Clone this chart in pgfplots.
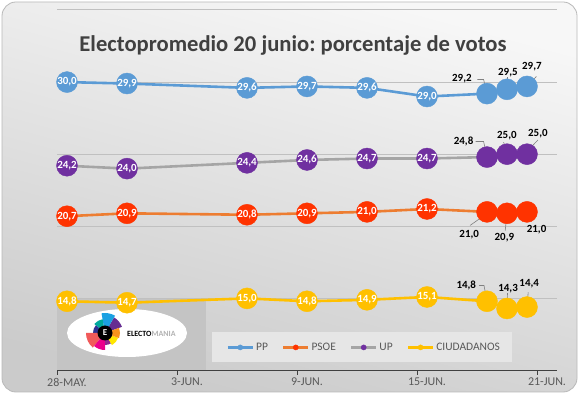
\documentclass[border=0pt]{standalone}
\usepackage{fontspec}
\setmainfont{Carlito}
\usepackage{pgfplots}
\pgfplotsset{compat=1.18}
\usepackage{pgfplotstable}
\frenchspacing

\definecolor{ppc}{HTML}{5B9BD5}
\definecolor{psoel}{HTML}{ED7D31}
\definecolor{psoem}{HTML}{FF3300}
\definecolor{upl}{HTML}{A5A5A5}
\definecolor{upm}{HTML}{7030A0}
\definecolor{csc}{HTML}{FFC000}
\definecolor{gridc}{HTML}{C0C0C0}
\definecolor{axc}{HTML}{404040}
\definecolor{txc}{HTML}{595959}
\definecolor{titc}{HTML}{404040}
\definecolor{bgtop}{HTML}{F7F7F7}
\definecolor{bgbot}{HTML}{CBCBCB}
\definecolor{logobg}{HTML}{C4C4C4}
\definecolor{legbg}{HTML}{E6E6E6}
\definecolor{leadc}{HTML}{808080}
\definecolor{lg1}{HTML}{662D91}
\definecolor{lg2}{HTML}{1BA1E2}
\definecolor{lg3}{HTML}{00A99D}
\definecolor{lg4}{HTML}{2E3192}
\definecolor{lg5}{HTML}{F15A5A}
\definecolor{lg6}{HTML}{EC008C}
\definecolor{lg7}{HTML}{92278F}
\definecolor{lg8}{HTML}{FFE600}
\definecolor{lg9}{HTML}{F7941D}

% x = day from 28-May (points at middle of day); w = 100 white label, 0 black label
\pgfplotstableread{
x    y    dx    dy    w
0.5  30.0 0     0     100
3.5  29.9 0     0     100
9.5  29.6 0     0     100
12.5 29.7 0     0     100
15.5 29.6 0     0     100
18.5 29.0 0     0     100
21.5 29.2 -25.1 14.8  0
22.5 29.5 0.9   17.1  0
23.5 29.7 4.9   19.9  0
}\pp
\pgfplotstableread{
x    y    dx    dy    w
0.5  20.7 0     0     100
3.5  20.9 0     0     100
9.5  20.8 0     0     100
12.5 20.9 0     0     100
15.5 21.0 0     0     100
18.5 21.2 0     0     100
21.5 21.0 -17.8 -22.6 0
22.5 20.9 -2.6  -23.9 0
23.5 21.0 9.6   -17.6 0
}\psoe
\pgfplotstableread{
x    y    dx    dy    w
0.5  24.2 0     0     100
3.5  24.0 0     0     100
9.5  24.4 0     0     100
12.5 24.6 0     0     100
15.5 24.7 0     0     100
18.5 24.7 0     0     100
21.5 24.8 -23.4 15.6  0
22.5 25.0 -0.1  18.7  0
23.5 25.0 10.9  21.0  0
}\up
\pgfplotstableread{
x    y    dx    dy    w
0.5  14.8 0     0     100
3.5  14.7 0     0     100
9.5  15.0 0     0     100
12.5 14.8 0     0     100
15.5 14.9 0     0     100
18.5 15.1 0     0     100
21.5 14.8 -20.7 15.8  0
22.5 14.3 1.1   19.7  0
23.5 14.4 2.2   23.2  0
}\cs

\pgfplotsset{
  serline/.style={color=#1, line width=2.6bp, no marks, forget plot},
  dots/.style={only marks, mark=*, mark size=10.5bp,
    mark options={draw=#1, fill=#1}, forget plot,
    nodes near coords, point meta=y,
    visualization depends on={\thisrow{dx}\as\ldx},
    visualization depends on={\thisrow{dy}\as\ldy},
    visualization depends on={\thisrow{w}\as\labw},
    every node near coord/.append style={anchor=center, inner sep=0pt,
      xshift=\ldx bp, yshift=\ldy bp, text={white!\labw!black},
      font=\bfseries\fontsize{11}{13}\selectfont}},
  legimg/.style={legend image code/.code={%
    \draw[line width=2.6bp,##1] (0bp,0bp) -- (25bp,0bp);
    \fill[#1] (12.5bp,0bp) circle (2.6bp);}},
}

\begin{document}
\begin{tikzpicture}
% background
\fill[white] (0,0) rectangle (580bp,394bp);
\shade[rounded corners=14bp, top color=bgtop, bottom color=bgbot, shading angle=-15]
  (2bp,2bp) rectangle (577bp,392bp);
\draw[gray!55, line width=0.8bp, rounded corners=14bp] (2bp,2bp) rectangle (577bp,392bp);
% logo panel
\fill[logobg] (57bp,24bp) rectangle (206bp,96bp);
\fill[white] (127bp,61bp) ellipse (60bp and 24bp);
\begin{scope}[shift={(105bp,61bp)}]
  \fill[lg1] (0,0) -- (20:18bp) arc (20:60:18bp) -- cycle;
  \fill[lg2] (0,0) -- (60:20bp) arc (60:100:20bp) -- cycle;
  \fill[lg3] (0,0) -- (100:14bp) arc (100:140:14bp) -- cycle;
  \fill[lg4] (0,0) -- (140:12bp) arc (140:180:12bp) -- cycle;
  \fill[lg5] (0,0) -- (180:19bp) arc (180:230:19bp) -- cycle;
  \fill[lg6] (0,0) -- (230:17bp) arc (230:270:17bp) -- cycle;
  \fill[lg7] (0,0) -- (270:12bp) arc (270:300:12bp) -- cycle;
  \fill[lg8] (0,0) -- (300:14bp) arc (300:340:14bp) -- cycle;
  \fill[lg9] (0,0) -- (340:15bp) arc (340:380:15bp) -- cycle;
  \fill[black] (0,0) circle (7.5bp);
  \node[text=white, font=\bfseries\fontsize{9}{9}\selectfont] at (0,0) {E};
\end{scope}
\node[anchor=west, inner sep=0pt, font=\bfseries\fontsize{8}{9}\selectfont] at (127bp,60.5bp)
  {ELECTO\textcolor{gray!60}{MANIA}};
% legend box
\fill[legbg] (212bp,32bp) rectangle (512bp,62bp);
% title
\node[text=titc, font=\bfseries\fontsize{22.7}{26}\selectfont] at (293bp,349bp)
  {Electopromedio 20 junio: porcentaje de votos};

\begin{axis}[
  at={(57bp,23.5bp)}, anchor=south west,
  scale only axis, width=500bp, height=360.5bp,
  xmin=0, xmax=25, ymin=10, ymax=35,
  clip=false,
  axis x line*=bottom, axis y line*=left,
  y axis line style={draw=none},
  x axis line style={draw=axc, line width=1.3bp, -},
  ytick={15,20,25,30,35}, yticklabels={},
  ytick style={draw=none},
  ymajorgrids, grid style={draw=gridc, line width=1bp},
  xtick={0,6,12,18,24},
  xticklabels={28-MAY.,3-JUN.,9-JUN.,15-JUN.,21-JUN.},
  xtick style={draw=axc, line width=1bp},
  tick align=outside, major tick length=4bp,
  x tick label style={font=\fontsize{12}{14}\selectfont, text=txc, xshift=10bp, yshift=0bp},
  /pgf/number format/fixed, /pgf/number format/fixed zerofill,
  /pgf/number format/precision=1, /pgf/number format/use comma,
  /pgf/number format/assume math mode=true,
  legend columns=4,
  legend style={at={(axis description cs:0.3386,0.064)}, anchor=west,
    draw=none, fill=none, inner sep=0pt,
    font=\fontsize{11.5}{13}\selectfont, text=txc,
    /tikz/every even column/.append style={column sep=12bp},
    /tikz/every odd column/.append style={column sep=0bp},
    nodes={inner xsep=2bp}},
]
\addplot[serline=ppc] table[x=x,y=y]{\pp};
\addplot[serline=psoel] table[x=x,y=y]{\psoe};
\addplot[serline=upl] table[x=x,y=y]{\up};
\addplot[serline=csc] table[x=x,y=y]{\cs};

\addplot[dots=ppc] table[x=x,y=y]{\pp};
\addplot[dots=psoem] table[x=x,y=y]{\psoe};
\addplot[dots=upm] table[x=x,y=y]{\up};
\addplot[dots=csc] table[x=x,y=y]{\cs};

% leader lines of the last labels
\begin{scope}[draw=leadc, line width=0.6bp]
\draw (axis cs:21.5,29.2) -- ++(-3.4bp,14.1bp) -- ++(-6.3bp,0bp);
\draw (axis cs:22.5,29.5) -- ++(0bp,12.3bp);
\draw ([shift={(1bp,1bp)}]axis cs:23.5,29.7) -- ++(8.4bp,9bp);
\draw (axis cs:21.5,24.8) -- ++(-3.4bp,15.6bp) -- ++(-8bp,0bp);
\draw ([shift={(0.3bp,1.7bp)}]axis cs:22.5,25.0) -- ++(-3.7bp,10.3bp);
\draw ([shift={(0.9bp,3.7bp)}]axis cs:23.5,25.0) -- ++(10bp,10.5bp);
\draw ([shift={(-0.4bp,-1.9bp)}]axis cs:21.5,21.0) -- ++(-16.6bp,-11.7bp);
\draw ([shift={(0bp,-0.5bp)}]axis cs:22.5,20.9) -- ++(-1.8bp,-16.7bp);
\draw (axis cs:21.5,14.8) -- ++(-3bp,15.8bp) -- ++(-4.8bp,0bp);
\draw (axis cs:22.5,14.3) -- ++(0.5bp,15.3bp);
\draw (axis cs:23.5,14.4) -- ++(1.2bp,14.8bp);
\end{scope}

\addlegendimage{legimg=ppc, ppc}
\addlegendentry{PP}
\addlegendimage{legimg=psoem, psoel}
\addlegendentry{PSOE}
\addlegendimage{legimg=upm, upl}
\addlegendentry{UP}
\addlegendimage{legimg=csc, csc}
\addlegendentry{CIUDADANOS}
\end{axis}
\end{tikzpicture}
\end{document}
